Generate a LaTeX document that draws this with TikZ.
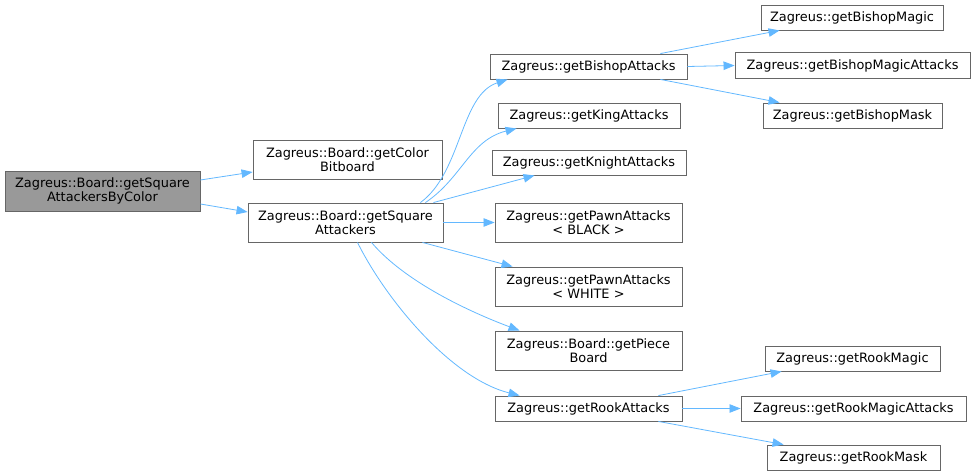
\documentclass[tikz,border=0pt]{standalone}
\usepackage{fontspec}
\setmainfont{DejaVu Sans}
\usepackage{tikz}
\usetikzlibrary{arrows.meta,calc}
\definecolor{edge}{HTML}{63B8FF}
\definecolor{frame}{HTML}{666666}
\definecolor{cur}{HTML}{999999}

\begin{document}
\begin{tikzpicture}[x=1pt,y=-1pt,
  fn/.style={draw=frame,fill=white,line width=0.9pt,inner sep=0pt,
             font=\fontsize{12.9}{14.5}\selectfont,align=center},
  arr/.style={-{Triangle[length=11pt,width=8.5pt]},draw=edge,line width=0.8pt}
]
\useasboundingbox (0,0) rectangle (977,476);
% caller and its two callees
\node[fn,fill=cur,minimum width=195pt,minimum height=40pt] (root) at (102.5,191) {Zagreus::Board::getSquare\\AttackersByColor};
\node[fn,minimum width=189pt,minimum height=39pt] (colbb) at (347.5,159.5) {Zagreus::Board::getColor\\Bitboard};
\node[fn,minimum width=195pt,minimum height=39pt] (sqatt) at (345.5,222.5) {Zagreus::Board::getSquare\\Attackers};
% middle column
\node[fn,minimum width=197pt,minimum height=25pt] (bishop) at (588.5,66.5) {Zagreus::getBishopAttacks};
\node[fn,minimum width=182pt,minimum height=25pt] (king) at (589,115.5) {Zagreus::getKingAttacks};
\node[fn,minimum width=194pt,minimum height=25pt] (knight) at (589,162.5) {Zagreus::getKnightAttacks};
\node[fn,minimum width=187pt,minimum height=39pt] (pawnb) at (588.5,222.5) {Zagreus::getPawnAttacks\\< BLACK >};
\node[fn,minimum width=187pt,minimum height=39pt] (pawnw) at (588.5,286.5) {Zagreus::getPawnAttacks\\< WHITE >};
\node[fn,minimum width=187pt,minimum height=39pt] (piece) at (588.5,350.5) {Zagreus::Board::getPiece\\Board};
\node[fn,minimum width=187pt,minimum height=25pt] (rook) at (588.5,408.5) {Zagreus::getRookAttacks};
% right column
\node[fn,minimum width=182pt,minimum height=25pt] (bmagic) at (852,17.5) {Zagreus::getBishopMagic};
\node[fn,minimum width=235pt,minimum height=26pt] (bmatt) at (852.5,65.5) {Zagreus::getBishopMagicAttacks};
\node[fn,minimum width=179pt,minimum height=25pt] (bmask) at (852.5,115.5) {Zagreus::getBishopMask};
\node[fn,minimum width=175pt,minimum height=25pt] (rmagic) at (852.5,358.5) {Zagreus::getRookMagic};
\node[fn,minimum width=225pt,minimum height=25pt] (rmatt) at (853.5,408.5) {Zagreus::getRookMagicAttacks};
\node[fn,minimum width=173pt,minimum height=25pt] (rmask) at (853.5,457.5) {Zagreus::getRookMask};

\draw[arr] ([yshift=11pt]root.east) -- ([yshift=-12.5pt]colbb.west);
\draw[arr] ([yshift=-13pt]root.east) -- ([yshift=10.5pt]sqatt.west);

\draw[arr] ([xshift=-23pt]sqatt.north east) .. controls (462,172) and (460,95) .. ([xshift=18pt]bishop.south west);
\draw[arr] ([xshift=-18pt]sqatt.north east) .. controls (462,178) and (470,140) .. ([xshift=19pt]king.south west);
\draw[arr] ([xshift=-10pt]sqatt.north east) -- ([xshift=43pt]knight.south west);
\draw[arr] (sqatt.east) -- (pawnb.west);
\draw[arr] ([xshift=-21pt]sqatt.south east) -- ([xshift=18pt]pawnw.north west);
\draw[arr] ([xshift=26pt]sqatt.south) .. controls (405,282) and (470,312) .. ([xshift=25pt]piece.north west);
\draw[arr] ([xshift=12pt]sqatt.south) .. controls (385,298) and (450,378) .. ([xshift=25pt]rook.north west);

\draw[arr] ([xshift=-27pt]bishop.north east) -- ([xshift=19pt]bmagic.south west);
\draw[arr] (bishop.east) -- (bmatt.west);
\draw[arr] ([xshift=-27pt]bishop.south east) -- ([xshift=17pt]bmask.north west);
\draw[arr] ([xshift=-24pt]rook.north east) -- ([xshift=17pt]rmagic.south west);
\draw[arr] (rook.east) -- (rmatt.west);
\draw[arr] ([xshift=-24pt]rook.south east) -- ([xshift=17pt]rmask.north west);
\end{tikzpicture}
\end{document}
